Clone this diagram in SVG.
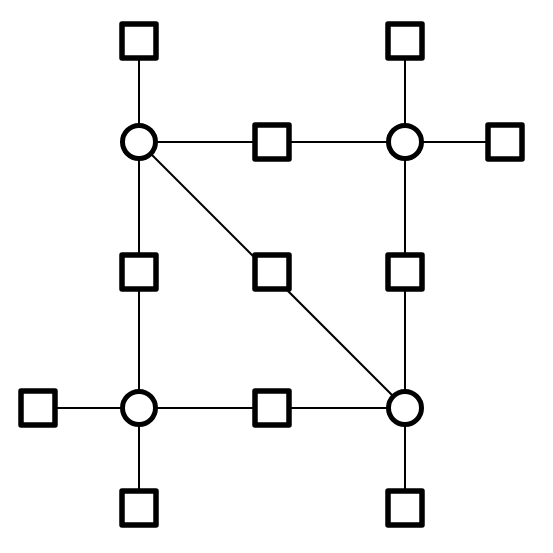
<svg xmlns="http://www.w3.org/2000/svg" width="553" height="553" viewBox="0 0 553 553">
<style>
.e{stroke:#000;stroke-width:2;fill:none}
.s{fill:#fff;stroke:#000;stroke-width:5.5;stroke-linejoin:round}
.c{fill:#fff;stroke:#000;stroke-width:5}
</style>
<rect width="553" height="553" fill="#fff"/>
<g id="edges">
<line class="e" x1="139" y1="41" x2="139" y2="508"/>
<line class="e" x1="405" y1="41" x2="405" y2="508"/>
<line class="e" x1="139" y1="142" x2="505" y2="142"/>
<line class="e" x1="38" y1="408" x2="405" y2="408"/>
<line class="e" x1="139" y1="142" x2="405" y2="408"/>
</g>
<g id="hub1"><circle class="c" cx="139" cy="142" r="16.5"/></g>
<g id="hub2"><circle class="c" cx="405" cy="142" r="16.5"/></g>
<g id="hub3"><circle class="c" cx="139" cy="408" r="16.5"/></g>
<g id="hub4"><circle class="c" cx="405" cy="408" r="16.5"/></g>
<g id="sq1"><rect class="s" x="122" y="24" width="34" height="34"/></g>
<g id="sq2"><rect class="s" x="388" y="24" width="34" height="34"/></g>
<g id="sq3"><rect class="s" x="255" y="125" width="34" height="34"/></g>
<g id="sq4"><rect class="s" x="488" y="125" width="34" height="34"/></g>
<g id="sq5"><rect class="s" x="122" y="255" width="34" height="34"/></g>
<g id="sq6"><rect class="s" x="255" y="255" width="34" height="34"/></g>
<g id="sq7"><rect class="s" x="388" y="255" width="34" height="34"/></g>
<g id="sq8"><rect class="s" x="21" y="391" width="34" height="34"/></g>
<g id="sq9"><rect class="s" x="255" y="391" width="34" height="34"/></g>
<g id="sq10"><rect class="s" x="122" y="491" width="34" height="34"/></g>
<g id="sq11"><rect class="s" x="388" y="491" width="34" height="34"/></g>
</svg>
